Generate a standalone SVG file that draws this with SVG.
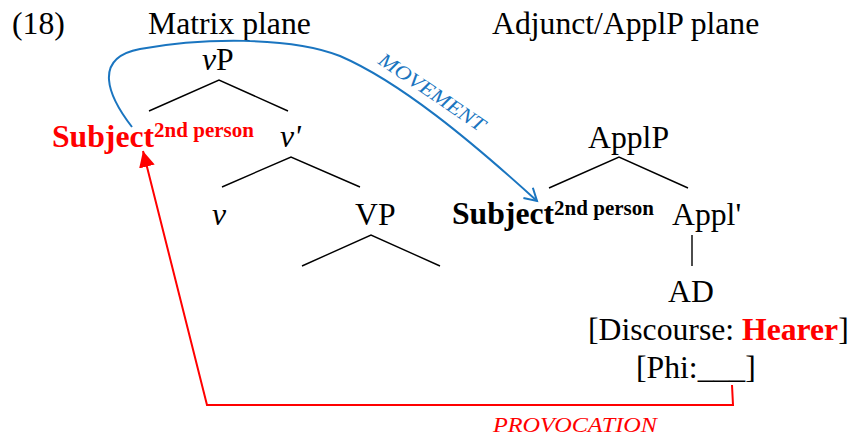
<svg xmlns="http://www.w3.org/2000/svg" width="849" height="439" viewBox="0 0 849 439">
<style>
text{font-family:"Liberation Serif","Times New Roman",serif;font-size:31.7px;fill:#000}
.it{font-style:italic}
.b{font-weight:bold}
.sup{font-size:21px;font-weight:bold}
.red{fill:#ff0000}
.br{stroke:#000;stroke-width:1.4;fill:none}
.mv{stroke:#1a75c0;stroke-width:2;fill:none}
.pv{stroke:#ff0000;stroke-width:2;fill:none}
</style>
<defs>
<marker id="openArrow" markerWidth="20" markerHeight="20" refX="14" refY="8" orient="auto" markerUnits="userSpaceOnUse" viewBox="0 0 20 16">
<path d="M2,1 L14,8 L2,15" fill="none" stroke="#1a75c0" stroke-width="2"/>
</marker>
<marker id="redArrow" markerWidth="20" markerHeight="20" refX="16" refY="8" orient="auto" markerUnits="userSpaceOnUse" viewBox="0 0 20 16">
<path d="M0,0 L16,8 L0,16 Z" fill="#ff0000"/>
</marker>
</defs>
<g id="labels">
<text x="12" y="34">(18)</text>
<text x="148" y="34">Matrix plane</text>
<text x="492" y="34">Adjunct/ApplP plane</text>
</g>
<g id="vP"><text x="202" y="70"><tspan class="it">v</tspan>P</text></g>
<g id="subject-red"><text x="52" y="147" class="b red">Subject<tspan class="sup red" dy="-10">2nd person</tspan></text></g>
<g id="vbar"><text x="280" y="147" class="it">v'</text></g>
<g id="v"><text x="212" y="225" class="it">v</text></g>
<g id="VP"><text x="355" y="225">VP</text></g>
<g id="ApplP"><text x="588" y="148">ApplP</text></g>
<g id="subject-black"><text x="452" y="224" class="b">Subject<tspan class="sup" dy="-9">2nd person</tspan></text></g>
<g id="Applbar"><text x="672" y="225">Appl'</text></g>
<g id="AD">
<text x="668" y="302">AD</text>
<text x="588" y="340">[Discourse: <tspan class="b red">Hearer</tspan>]</text>
<text x="636" y="378">[Phi:___]</text>
</g>
<g id="connectors">
<polyline class="br" points="149,111 219,80 288,111"/>
<polyline class="br" points="222,187 291,157 360,187"/>
<polyline class="br" points="302,266 371,235 440,266"/>
<polyline class="br" points="549,188 619,157 688,188"/>
<line class="br" x1="692" y1="235" x2="692" y2="266"/>
<path class="mv" d="M132,127 C108,96 92,58 140,49 C200,38 290,36 340,56 C400,82 470,140 537,201" marker-end="url(#openArrow)"/>
<polyline class="pv" points="732,385 733,405 207,405 143,151" marker-end="url(#redArrow)"/>
<text class="it" x="0" y="0" transform="translate(377,63) rotate(34)" style="font-size:20px;fill:#1a75c0" textLength="124" lengthAdjust="spacingAndGlyphs">MOVEMENT</text>
<text class="it red" x="493" y="432" style="font-size:21px" textLength="164" lengthAdjust="spacingAndGlyphs">PROVOCATION</text>
</g>
</svg>
